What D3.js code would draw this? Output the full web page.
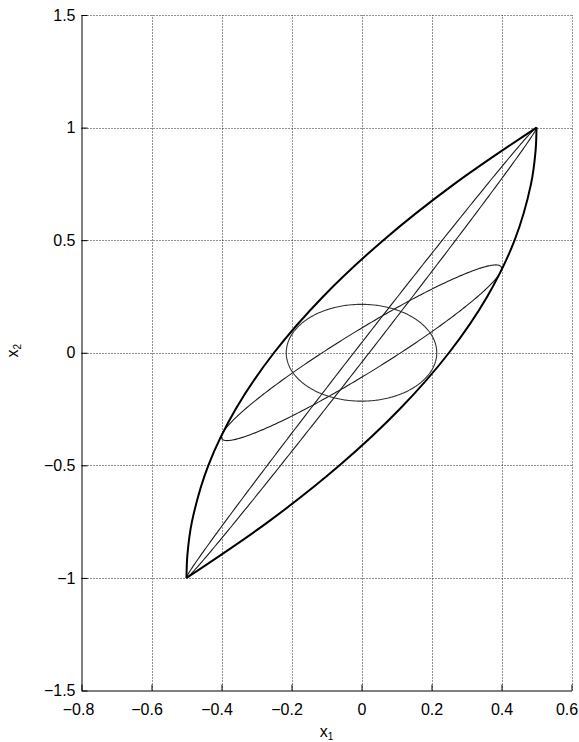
<!DOCTYPE html>
<html>
<head>
<meta charset="utf-8">
<script src="https://cdn.jsdelivr.net/npm/d3@7"></script>
<style>
  html, body { margin: 0; padding: 0; background: #fff; }
  svg { display: block; }
  text { font-family: "Liberation Sans", Arial, Helvetica, sans-serif; fill: #000; }
</style>
</head>
<body>
<svg id="chart" width="579" height="742"></svg>
<script>
// Axis ticks and their printed labels
const xTicks = [-0.8, -0.6, -0.4, -0.2, 0, 0.2, 0.4, 0.6];
const xTickLabels = ["\u22120.8", "\u22120.6", "\u22120.4", "\u22120.2", "0", "0.2", "0.4", "0.6"];
const yTicks = [-1.5, -1, -0.5, 0, 0.5, 1, 1.5];
const yTickLabels = ["\u22121.5", "\u22121", "\u22120.5", "0", "0.5", "1", "1.5"];

// Outer boundary of the set: left/upper branch and right/lower branch, as [x1, x2]
const upperBranch = [
  [-0.5, -1], [-0.4975, -0.9], [-0.4844, -0.75], [-0.4375, -0.5], [-0.3594, -0.25],
  [-0.25, 0], [-0.1094, 0.25], [0.0625, 0.5], [0.2656, 0.75], [0.5, 1]
];
const lowerBranch = [
  [-0.5, -1], [-0.2656, -0.75], [-0.0625, -0.5], [0.1094, -0.25], [0.25, 0],
  [0.3594, 0.25], [0.4375, 0.5], [0.4844, 0.75], [0.4975, 0.9], [0.5, 1]
];

// Centred ellipses, each given by a pair of conjugate semi-diameters p and q
const ellipseP = [[0.5, 1.0], [0.397, 0.358], [0.215, 0.0]];
const ellipseQ = [[0.022, 0.0], [0.0497, 0.155], [0.0, 0.215]];

const svg = d3.select("#chart");
const x = d3.scaleLinear().domain([-0.8, 0.6]).range([81.5, 571.5]);
const y = d3.scaleLinear().domain([-1.5, 1.5]).range([690.5, 15]);

// Dotted grid
const grid = svg.append("g").attr("stroke", "#222").attr("stroke-width", 1)
  .attr("stroke-dasharray", "1,2").attr("fill", "none");
grid.selectAll("line.v").data(xTicks.slice(1)).join("line").attr("class", "v")
  .attr("x1", d => Math.round(x(d)) + 0.5).attr("x2", d => Math.round(x(d)) + 0.5)
  .attr("y1", y(-1.5)).attr("y2", y(1.5));
grid.selectAll("line.h").data(yTicks.slice(1)).join("line").attr("class", "h")
  .attr("y1", d => Math.round(y(d)) + 0.5).attr("y2", d => Math.round(y(d)) + 0.5)
  .attr("x1", x(-0.8)).attr("x2", x(0.6));

// Ellipses
const theta = d3.range(0, 361).map(d => d * Math.PI / 180);
const lineXY = d3.line().x(d => x(d[0])).y(d => y(d[1]));
const ellG = svg.append("g").attr("fill", "none");
ellipseP.forEach((p, i) => {
  const q = ellipseQ[i];
  const pts = theta.map(t => [p[0] * Math.cos(t) + q[0] * Math.sin(t),
                              p[1] * Math.cos(t) + q[1] * Math.sin(t)]);
  ellG.append("path").attr("d", lineXY(pts) + "Z")
    .attr("stroke", i === 2 ? "#333" : "#1a1a1a").attr("stroke-width", 1.1);
});

// Boundary
const curve = d3.line().x(d => x(d[0])).y(d => y(d[1])).curve(d3.curveCatmullRom.alpha(0.5));
[upperBranch, lowerBranch].forEach(b => {
  svg.append("path").attr("d", curve(b)).attr("fill", "none")
    .attr("stroke", "#000").attr("stroke-width", 2).attr("stroke-linejoin", "round");
});

// Axes (ticks point inward)
const xAxis = d3.axisBottom(x).tickValues(xTicks).tickFormat((d, i) => xTickLabels[i])
  .tickSizeInner(-6).tickSizeOuter(0).tickPadding(13);
const yAxis = d3.axisLeft(y).tickValues(yTicks).tickFormat((d, i) => yTickLabels[i])
  .tickSizeInner(-6).tickSizeOuter(0).tickPadding(6);

const gx = svg.append("g").attr("transform", `translate(0,${y(-1.5)})`).call(xAxis);
const gy = svg.append("g").attr("transform", `translate(${x(-0.8)},0)`).call(yAxis);
[gx, gy].forEach(g => {
  g.selectAll("path, line").attr("stroke", "#000").attr("stroke-width", 1);
  g.selectAll("text").style("font-size", "16px")
    .style("font-family", "'Liberation Sans', Arial, Helvetica, sans-serif");
});
// Signed labels sit with the digits centred under the tick; the last one is kept inside the frame
gx.selectAll(".tick text").attr("dx", (d, i) => i === 0 ? -3.5 : (d < 0 ? -5 : (i === xTicks.length - 1 ? -5 : 0)));

// Axis titles
const xt = svg.append("text").attr("x", (x(-0.8) + x(0.6)) / 2).attr("y", 737)
  .attr("text-anchor", "middle").style("font-size", "16px");
xt.append("tspan").text("x");
xt.append("tspan").attr("dy", 3).style("font-size", "10px").text("1");

const yt = svg.append("text").attr("transform", `translate(18,${(y(-1.5) + y(1.5)) / 2 - 2}) rotate(-90)`)
  .attr("text-anchor", "middle").style("font-size", "16px");
yt.append("tspan").text("x");
yt.append("tspan").attr("dy", 3).style("font-size", "10px").text("2");
</script>
</body>
</html>
